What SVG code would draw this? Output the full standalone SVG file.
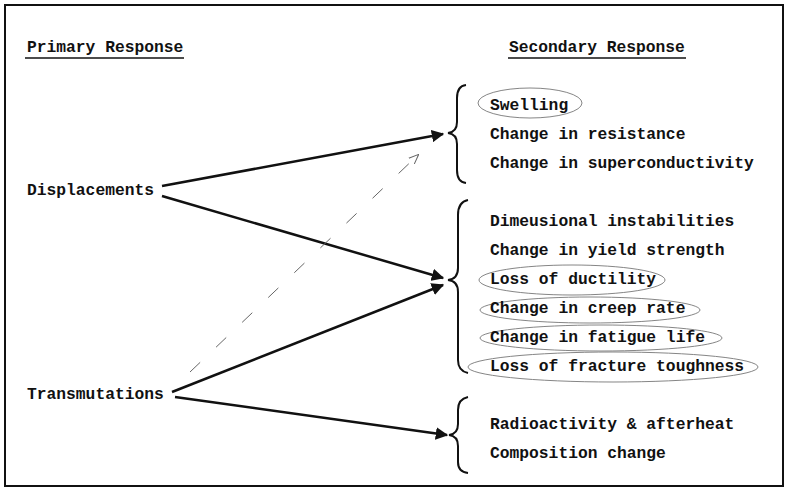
<svg xmlns="http://www.w3.org/2000/svg" width="791" height="492" viewBox="0 0 791 492">
<style>
text{font-family:"Liberation Mono","DejaVu Sans Mono",monospace;font-size:16.3px;font-weight:bold;fill:#111}
.br{fill:none;stroke:#111;stroke-width:2}
.cn{stroke:#111;stroke-width:2.5;fill:none}
.el{fill:none;stroke:#777;stroke-width:0.9}
</style>
<defs>
<marker id="ah" viewBox="0 0 10 10" refX="9" refY="5" markerWidth="5" markerHeight="5" orient="auto" markerUnits="strokeWidth">
<path d="M0,0 L10,5 L0,10 z" fill="#111"/>
</marker>
<marker id="oh" viewBox="0 0 10 10" refX="9" refY="5" markerWidth="10" markerHeight="10" orient="auto" markerUnits="strokeWidth">
<path d="M0,1 L10,5 L0,9" fill="none" stroke="#666" stroke-width="1"/>
</marker>
</defs>
<rect x="0" y="0" width="791" height="492" fill="#fff"/>
<rect x="5" y="5" width="778" height="481" fill="none" stroke="#111" stroke-width="2"/>
<g id="headers">
<text x="27" y="52">Primary Response</text>
<line x1="25" y1="58" x2="184" y2="58" stroke="#111" stroke-width="1.5"/>
<text x="509" y="52">Secondary Response</text>
<line x1="508" y1="58" x2="686" y2="58" stroke="#111" stroke-width="1.5"/>
</g>
<g id="displacements"><text x="27" y="195">Displacements</text></g>
<g id="transmutations"><text x="27" y="399">Transmutations</text></g>
<g id="group1">
<path class="br" d="M466,85 Q457,86 457,98 L457,122 Q457,132 448,133 Q457,134 457,144 L457,170 Q457,182 466,183"/>
<ellipse class="el" cx="530" cy="103" rx="52" ry="15"/>
<text x="490" y="110">Swelling</text>
<text x="490" y="139">Change in resistance</text>
<text x="490" y="168">Change in superconductivity</text>
</g>
<g id="group2">
<path class="br" d="M468,200 Q458,202 458,215 L458,268 Q458,279 448,280 Q458,281 458,292 L458,360 Q458,371 468,373"/>
<ellipse class="el" cx="572" cy="280" rx="93" ry="15"/>
<ellipse class="el" cx="590" cy="310" rx="110" ry="13"/>
<ellipse class="el" cx="601" cy="338" rx="121" ry="13"/>
<ellipse class="el" cx="613" cy="367" rx="145" ry="15"/>
<text x="490" y="226">Dimeusional instabilities</text>
<text x="490" y="255">Change in yield strength</text>
<text x="490" y="284">Loss of ductility</text>
<text x="490" y="313">Change in creep rate</text>
<text x="490" y="342">Change in fatigue life</text>
<text x="490" y="371">Loss of fracture toughness</text>
</g>
<g id="group3">
<path class="br" d="M468,397 Q458,399 458,410 L458,424 Q458,434 449,435 Q458,436 458,446 L458,462 Q458,472 468,473"/>
<text x="490" y="429">Radioactivity &amp; afterheat</text>
<text x="490" y="458">Composition change</text>
</g>
<g id="connectors">
<line class="cn" x1="162" y1="186" x2="443" y2="134" marker-end="url(#ah)"/>
<line class="cn" x1="162" y1="196" x2="443" y2="278" marker-end="url(#ah)"/>
<line class="cn" x1="172" y1="392" x2="443" y2="285" marker-end="url(#ah)"/>
<line class="cn" x1="175" y1="397" x2="447" y2="435" marker-end="url(#ah)"/>
<line x1="190" y1="372" x2="418" y2="155" stroke="#666" stroke-width="1" stroke-dasharray="14,22" marker-end="url(#oh)"/>
</g>
</svg>
